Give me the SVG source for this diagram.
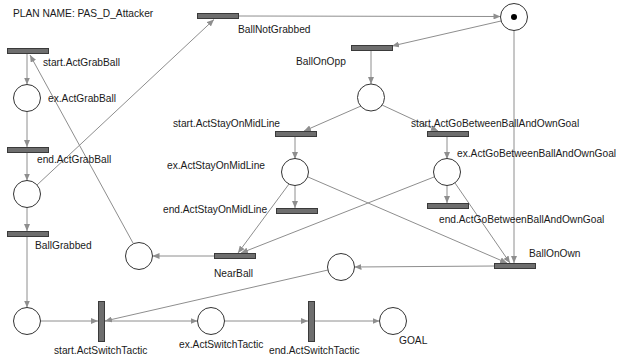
<svg xmlns="http://www.w3.org/2000/svg" width="620" height="362" viewBox="0 0 620 362">
<style>
.t{fill:#6e6e6e;stroke:#3a3a3a;stroke-width:1}
.p{fill:#fff;stroke:#333;stroke-width:1}
.a{stroke:#8e8e8e;stroke-width:1;fill:none;marker-end:url(#ah)}
text{font-family:"Liberation Sans",Arial,sans-serif;font-size:10.2px;fill:#1a1a1a}
</style>
<defs>
<marker id="ah" markerUnits="userSpaceOnUse" markerWidth="7" markerHeight="6" refX="7" refY="3" orient="auto">
<path d="M0,0 L7,3 L0,6 z" fill="#8e8e8e"/>
</marker>
</defs>
<rect width="620" height="362" fill="#fff"/>
<text x="13" y="17">PLAN NAME: PAS_D_Attacker</text>
<g id="connectors">
<line class="a" x1="27" y1="54" x2="27" y2="84.5"/>
<line class="a" x1="27" y1="111.5" x2="27" y2="147"/>
<line class="a" x1="27" y1="153" x2="27" y2="180.5"/>
<line class="a" x1="27" y1="207.5" x2="27" y2="231"/>
<line class="a" x1="27" y1="237" x2="27" y2="307.5"/>
<line class="a" x1="37" y1="185" x2="214" y2="19.5"/>
<line class="a" x1="239" y1="16" x2="500.5" y2="16.5"/>
<line class="a" x1="133" y1="243" x2="30" y2="55"/>
<line class="a" x1="501" y1="21" x2="392" y2="46"/>
<line class="a" x1="371" y1="51" x2="371" y2="84"/>
<line class="a" x1="361" y1="106" x2="304" y2="131"/>
<line class="a" x1="382" y1="105" x2="438" y2="131"/>
<line class="a" x1="295" y1="137" x2="295" y2="159"/>
<line class="a" x1="295" y1="185" x2="295" y2="208"/>
<line class="a" x1="289" y1="184" x2="238" y2="253"/>
<line class="a" x1="308" y1="177" x2="507" y2="263"/>
<line class="a" x1="447" y1="137" x2="447" y2="159"/>
<line class="a" x1="447" y1="185" x2="447" y2="203"/>
<line class="a" x1="434" y1="177" x2="241" y2="253"/>
<line class="a" x1="455" y1="183" x2="510" y2="263"/>
<line class="a" x1="514" y1="30.5" x2="514" y2="263"/>
<line class="a" x1="494" y1="266" x2="354.5" y2="267"/>
<line class="a" x1="214" y1="256" x2="152.5" y2="256"/>
<line class="a" x1="328" y1="270" x2="105" y2="321"/>
<line class="a" x1="40.5" y1="321" x2="98" y2="321"/>
<line class="a" x1="105" y1="321" x2="197.5" y2="321"/>
<line class="a" x1="224.5" y1="321" x2="308" y2="321"/>
<line class="a" x1="315" y1="321" x2="379.5" y2="321"/>
</g>
<g id="t_BallNotGrabbed"><rect class="t" x="197.5" y="13.5" width="41" height="5"/><text x="238" y="33">BallNotGrabbed</text></g>
<g id="t_startActGrabBall"><rect class="t" x="7.5" y="48.5" width="41" height="5"/><text x="43" y="66">start.ActGrabBall</text></g>
<g id="t_endActGrabBall"><rect class="t" x="7.5" y="147.5" width="41" height="5"/><text x="37" y="163">end.ActGrabBall</text></g>
<g id="t_BallGrabbed"><rect class="t" x="7.5" y="231.5" width="41" height="5"/><text x="35" y="249">BallGrabbed</text></g>
<g id="t_BallOnOpp"><rect class="t" x="351.5" y="45.5" width="41" height="5"/><text x="296" y="65">BallOnOpp</text></g>
<g id="t_startActStayOnMidLine"><rect class="t" x="275.5" y="131.5" width="41" height="5"/><text x="173" y="127">start.ActStayOnMidLine</text></g>
<g id="t_endActStayOnMidLine"><rect class="t" x="276.5" y="208.5" width="41" height="5"/><text x="163" y="213">end.ActStayOnMidLine</text></g>
<g id="t_NearBall"><rect class="t" x="214.5" y="253.5" width="41" height="5"/><text x="214" y="277">NearBall</text></g>
<g id="t_startActGoBetween"><rect class="t" x="427.5" y="131.5" width="41" height="5"/><text x="411" y="127">start.ActGoBetweenBallAndOwnGoal</text></g>
<g id="t_endActGoBetween"><rect class="t" x="427.5" y="203.5" width="41" height="5"/><text x="439" y="223">end.ActGoBetweenBallAndOwnGoal</text></g>
<g id="t_BallOnOwn"><rect class="t" x="494.5" y="263.5" width="41" height="5"/><text x="529" y="257">BallOnOwn</text></g>
<g id="t_startActSwitchTactic"><rect class="t" x="98.5" y="301.5" width="6" height="40"/><text x="54" y="354">start.ActSwitchTactic</text></g>
<g id="t_endActSwitchTactic"><rect class="t" x="308.5" y="301.5" width="6" height="40"/><text x="269" y="354">end.ActSwitchTactic</text></g>
<g id="p_start"><circle class="p" cx="514" cy="17" r="13.5"/><circle cx="514" cy="17" r="3" fill="#000"/></g>
<g id="p_exActGrabBall"><circle class="p" cx="27" cy="98" r="13.5"/><text x="48" y="102">ex.ActGrabBall</text></g>
<g id="p_grabbed"><circle class="p" cx="27" cy="194" r="13.5"/></g>
<g id="p_onOpp"><circle class="p" cx="371" cy="97.5" r="13.5"/></g>
<g id="p_exActStayOnMidLine"><circle class="p" cx="295" cy="172" r="13.5"/><text x="167" y="169">ex.ActStayOnMidLine</text></g>
<g id="p_exActGoBetween"><circle class="p" cx="447" cy="172" r="13.5"/><text x="457" y="157">ex.ActGoBetweenBallAndOwnGoal</text></g>
<g id="p_nearBall"><circle class="p" cx="139" cy="256" r="13.5"/></g>
<g id="p_onOwn"><circle class="p" cx="341" cy="267" r="13.5"/></g>
<g id="p_bottomLeft"><circle class="p" cx="27" cy="321" r="13.5"/></g>
<g id="p_exActSwitchTactic"><circle class="p" cx="211" cy="321" r="13.5"/><text x="179" y="348">ex.ActSwitchTactic</text></g>
<g id="p_GOAL"><circle class="p" cx="393" cy="321" r="13.5"/><text x="399" y="344">GOAL</text></g>
</svg>
